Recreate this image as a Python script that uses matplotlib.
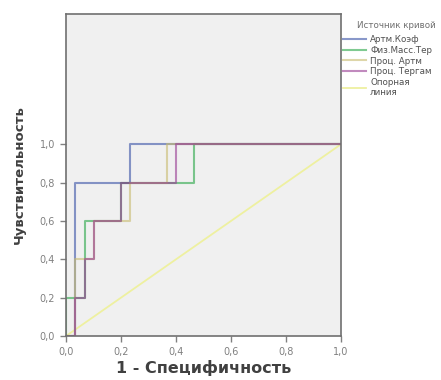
import matplotlib.pyplot as plt
from matplotlib.ticker import FuncFormatter

# ROC steps (1 - specificity, sensitivity)
artm_x = [0, 0.033, 0.033, 0.233, 0.233, 1.0]
artm_y = [0, 0, 0.8, 0.8, 1.0, 1.0]
fiz_x = [0, 0, 0.067, 0.067, 0.2, 0.2, 0.467, 0.467, 1.0]
fiz_y = [0, 0.2, 0.2, 0.6, 0.6, 0.8, 0.8, 1.0, 1.0]
proc_artm_x = [0, 0.033, 0.033, 0.1, 0.1, 0.233, 0.233, 0.367, 0.367, 1.0]
proc_artm_y = [0, 0, 0.4, 0.4, 0.6, 0.6, 0.8, 0.8, 1.0, 1.0]
proc_ter_x = [0, 0.033, 0.033, 0.067, 0.067, 0.1, 0.1, 0.2, 0.2, 0.4, 0.4, 1.0]
proc_ter_y = [0, 0, 0.2, 0.2, 0.4, 0.4, 0.6, 0.6, 0.8, 0.8, 1.0, 1.0]
ref_x = [0, 1]
ref_y = [0, 1]

labels = ["Артм.Коэф", "Физ.Масс.Тер", "Проц. Артм", "Проц. Тергам", "Опорная\nлиния"]
colors = ["#3a54a8", "#2aa848", "#c8bc70", "#983c94", "#eef0a0"]
ticks = [0.0, 0.2, 0.4, 0.6, 0.8, 1.0]

fig = plt.figure(figsize=(4.41, 3.80), dpi=100)
ax = fig.add_axes([0.150, 0.116, 0.623, 0.847])
ax.set_facecolor("#f0f0f0")

ref_line, = ax.plot(ref_x, ref_y, color=colors[4], lw=1.3, label=labels[4], zorder=1)
series = [(artm_x, artm_y), (fiz_x, fiz_y), (proc_artm_x, proc_artm_y), (proc_ter_x, proc_ter_y)]
lines = []
for (xs, ys), c, lab in zip(series, colors[:4], labels[:4]):
    l, = ax.plot(xs, ys, color=c, lw=1.5, alpha=0.6, label=lab, zorder=2)
    lines.append(l)

ax.set_xlim(0, 1)
ax.set_ylim(0, 1.68)
ax.set_xticks(ticks)
ax.set_yticks(ticks)
fmt = FuncFormatter(lambda v, p: f"{v:.1f}".replace(".", ","))
ax.xaxis.set_major_formatter(fmt)
ax.yaxis.set_major_formatter(fmt)
ax.tick_params(labelsize=7, colors="#808080", length=4.5, width=1)
for s in ax.spines.values():
    s.set_color("#707070")
    s.set_linewidth(1.2)

ax.set_xlabel("1 - Специфичность", fontsize=11.5, fontweight="bold", color="#404040", labelpad=2)
ax.set_ylabel("Чувствительность", fontsize=9.5, fontweight="bold", color="#404040", labelpad=10)

fig.text(357 / 441, 1 - 25 / 380, "Источник кривой", fontsize=6.3, color="#707070", va="center")
handles = lines + [ref_line]
leg = fig.legend(handles, labels, loc="upper left", bbox_to_anchor=(343 / 441, 1 - 35 / 380),
                 fontsize=6.3, frameon=False, handlelength=2.6, handletextpad=0.5,
                 labelspacing=0.2, borderpad=0, borderaxespad=0)
for t in leg.get_texts():
    t.set_color("#505050")

fig.savefig("out.png", dpi=100)
